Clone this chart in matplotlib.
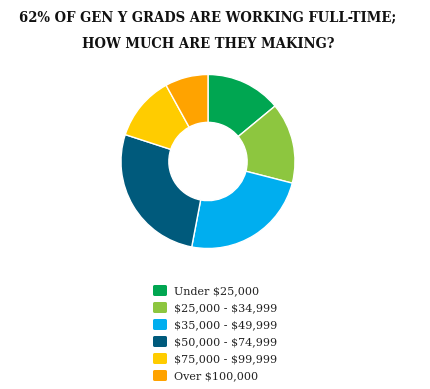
import matplotlib
matplotlib.use("Agg")
import matplotlib.pyplot as plt
from matplotlib.patches import FancyBboxPatch

categories = ["Under $25,000", "$25,000 - $34,999", "$35,000 - $49,999",
              "$50,000 - $74,999", "$75,000 - $99,999", "Over $100,000"]
values = [14, 15, 24, 27, 12, 8]
colors = ["#00A651", "#8DC63F", "#00AEEF", "#005A7C", "#FFCC00", "#FFA300"]
title_lines = ["62% OF GEN Y GRADS ARE WORKING FULL-TIME;", "HOW MUCH ARE THEY MAKING?"]

W, H = 430, 389
fig = plt.figure(figsize=(W / 100, H / 100), dpi=100)

cx, cy, r = 208, 161.5, 87
ax = fig.add_axes([(cx - r) / W, 1 - (cy + r) / H, 2 * r / W, 2 * r / H])
ax.pie(values, colors=colors, startangle=90, counterclock=False,
       radius=1.0, wedgeprops=dict(width=0.55, edgecolor="white", linewidth=1.0))
ax.set_xlim(-1, 1)
ax.set_ylim(-1, 1)
ax.set_aspect("equal")
ax.axis("off")

tfont = dict(family="DejaVu Serif", fontweight="bold", fontstretch="condensed",
             fontsize=10.5, color="#111111", ha="center", va="center")
fig.text(208 / W, 1 - 17.5 / H, title_lines[0], **tfont)
fig.text(208 / W, 1 - 44 / H, title_lines[1], **tfont)

# legend (entries built from categories / colors)
x0, y0, step = 153, 285, 17
bw, bh = 14, 11
for i, (lab, col) in enumerate(zip(categories, colors)):
    top = y0 + i * step
    box = FancyBboxPatch((x0 / W, 1 - (top + bh) / H), bw / W, bh / H,
                         boxstyle="round,pad=0,rounding_size=0.004",
                         transform=fig.transFigure, facecolor=col, edgecolor="none")
    fig.patches.append(box)
    fig.text(174 / W, 1 - (top + bh / 2 + 0.5) / H, lab.replace("$", r"\$"),
             family="DejaVu Serif", fontsize=8.0, color="#222222",
             ha="left", va="center")

fig.savefig("out.png", dpi=100)
